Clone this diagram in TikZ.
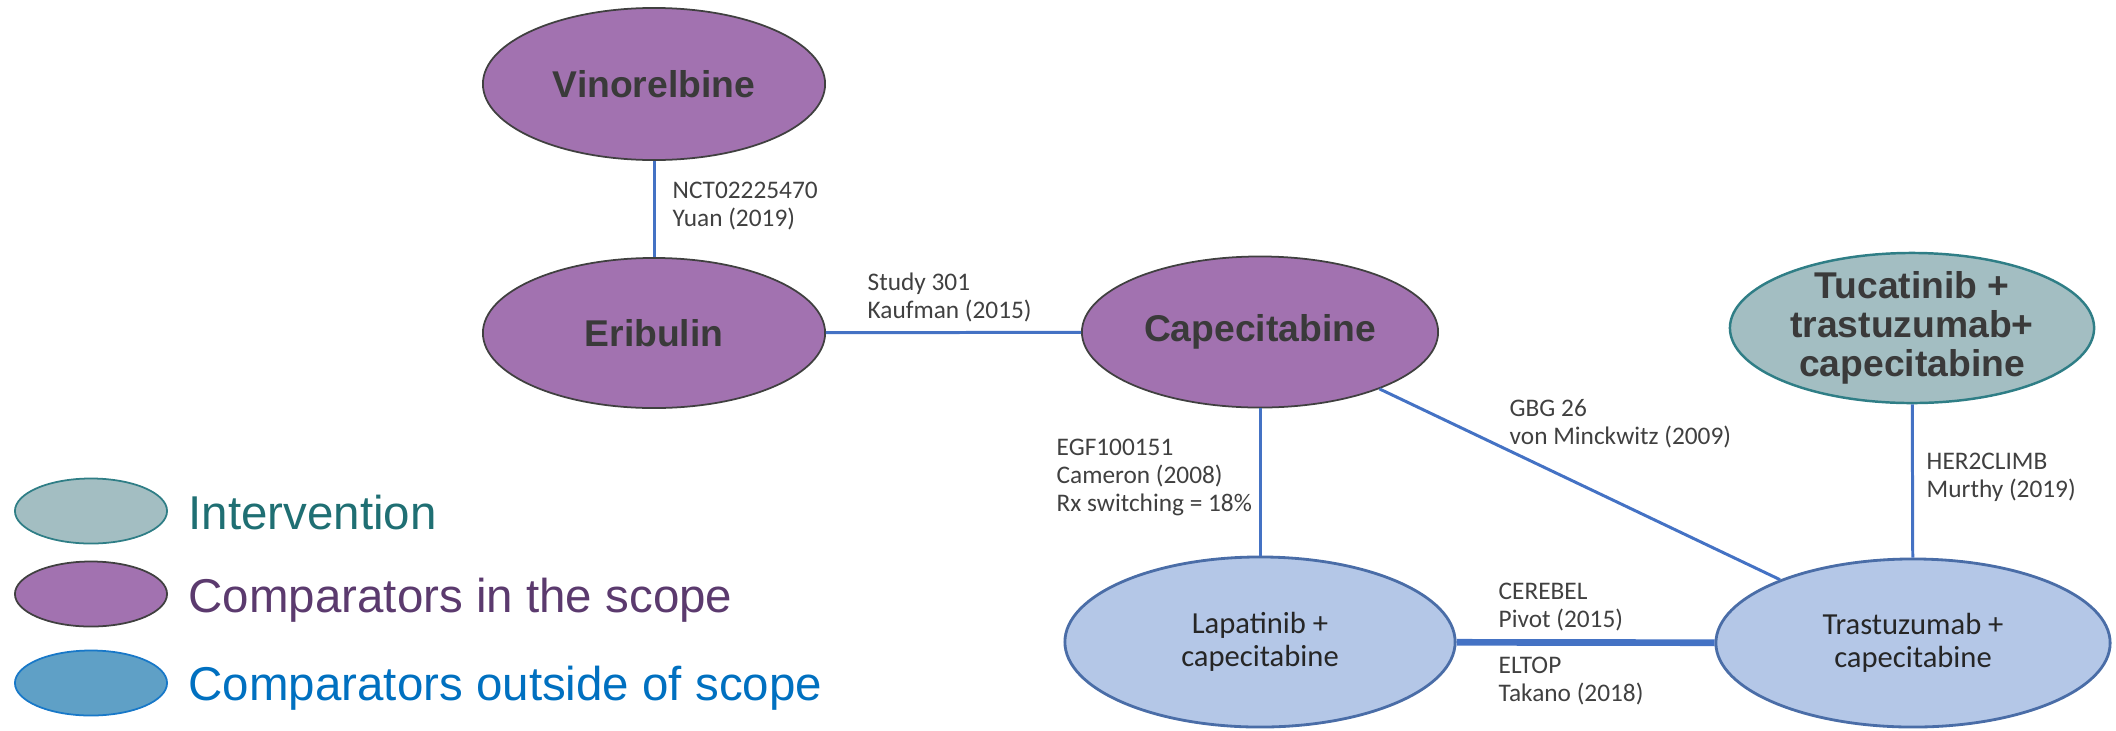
\documentclass[tikz,border=0pt]{standalone}
\usepackage{fontspec}
\setmainfont{Liberation Sans}
\newfontfamily\calib{Carlito}
\usetikzlibrary{shapes.geometric,positioning}

\definecolor{drugpurple}{HTML}{A272B0}
\definecolor{drugteal}{HTML}{A3BEC2}
\definecolor{tealline}{HTML}{2F7E86}
\definecolor{druglight}{HTML}{B4C7E7}
\definecolor{lightline}{HTML}{4A6DA7}
\definecolor{linkblue}{HTML}{4472C4}
\definecolor{txtgray}{HTML}{3A3A3A}
\definecolor{lblgray}{HTML}{404040}
\definecolor{legteal}{HTML}{1F6F73}
\definecolor{legpurple}{HTML}{5B3A6E}
\definecolor{legblue}{HTML}{0070C0}
\definecolor{outfill}{HTML}{5FA0C6}
\definecolor{outline}{HTML}{1878C8}

\begin{document}
\begin{tikzpicture}[
			x = 0.01cm, y = -0.01cm,
			drug/.style = {ellipse, inner sep = -2pt, align = center},
			inscope/.style = {drug, fill = drugpurple, draw = black!75, line width = 0.5pt,
				text = txtgray, font = \bfseries\fontsize{10.6}{11}\selectfont},
			interv/.style = {drug, fill = drugteal, draw = tealline, line width = 0.7pt,
				text = txtgray, font = \bfseries\fontsize{10.6}{11}\selectfont},
			outscope/.style = {drug, fill = druglight, draw = lightline, line width = 0.8pt,
				text = black!85, font = \calib\fontsize{8.7}{9.2}\selectfont},
			link/.style = {linkblue, line width = 0.85pt},
			study/.style = {anchor = north west, inner sep = 0pt, align = left,
				text = lblgray, font = \calib\fontsize{7.2}{8}\selectfont},
			legshape/.style = {ellipse, minimum width = 1.52cm, minimum height = 0.65cm,
				inner sep = 0pt, line width = 0.5pt},
			legtext/.style = {anchor = base west, inner sep = 0pt, font = \fontsize{13.5}{16}\selectfont}]
			\useasboundingbox (0,0) rectangle (2116,730);

			% treatments
			\node[inscope, minimum width = 3.42cm, minimum height = 1.52cm] (vin) at (654,84) {Vinorelbine};
			\node[inscope, minimum width = 3.42cm, minimum height = 1.50cm] (eri) at (654,333) {Eribulin};
			\node[inscope, minimum width = 3.56cm, minimum height = 1.51cm] (cap) at (1260,332) {Capecitabine};
			\node[interv, minimum width = 3.64cm, minimum height = 1.50cm] (tuc) at (1912,328) {Tucatinib +\\trastuzumab+\\capecitabine};
			\node[outscope, minimum width = 3.90cm, minimum height = 1.70cm] (lap) at (1260,642) {Lapatinib +\\capecitabine};
			\node[outscope, minimum width = 3.94cm, minimum height = 1.68cm] (tras) at (1913,643) {Trastuzumab +\\capecitabine};

			% trials
			\draw[link] (vin) -- (eri);
			\draw[link] (eri) -- (cap);
			\draw[link] (cap) -- (lap);
			\draw[link] (cap) -- (tras);
			\draw[link] (tuc) -- (tras);
			\draw[link, line width = 1.9pt] (lap) -- (tras);

			\node[study] (yuan) at (672,181) {NCT02225470\\Yuan (2019)};
			\node[study] (kaufman) at (867,272) {Study 301\\Kaufman (2015)};
			\node[study] (cameron) at (1056,438) {EGF100151\\Cameron (2008)\\Rx switching = 18\%};
			\node[study] (minckwitz) at (1509,399) {GBG 26\\von Minckwitz (2009)};
			\node[study] (murthy) at (1926,452) {HER2CLIMB\\Murthy (2019)};
			\node[study] (pivot) at (1498,582) {CEREBEL\\Pivot (2015)};
			\node[study] (takano) at (1498,656) {ELTOP\\Takano (2018)};

			% legend
			\node[legshape, fill = drugteal, draw = tealline] (legint) at (91,511) {};
			\node[legshape, fill = drugpurple, draw = black!75] (legin) at (91,594) {};
			\node[legshape, fill = outfill, draw = outline] (legout) at (91,683) {};
			\node[legtext, text = legteal] (leginttxt) at (188,529) {Intervention};
			\node[legtext, text = legpurple] (legintxt) at (188,612) {Comparators in the scope};
			\node[legtext, text = legblue] (legouttxt) at (188,700) {Comparators outside of scope};

		\end{tikzpicture}
\end{document}
